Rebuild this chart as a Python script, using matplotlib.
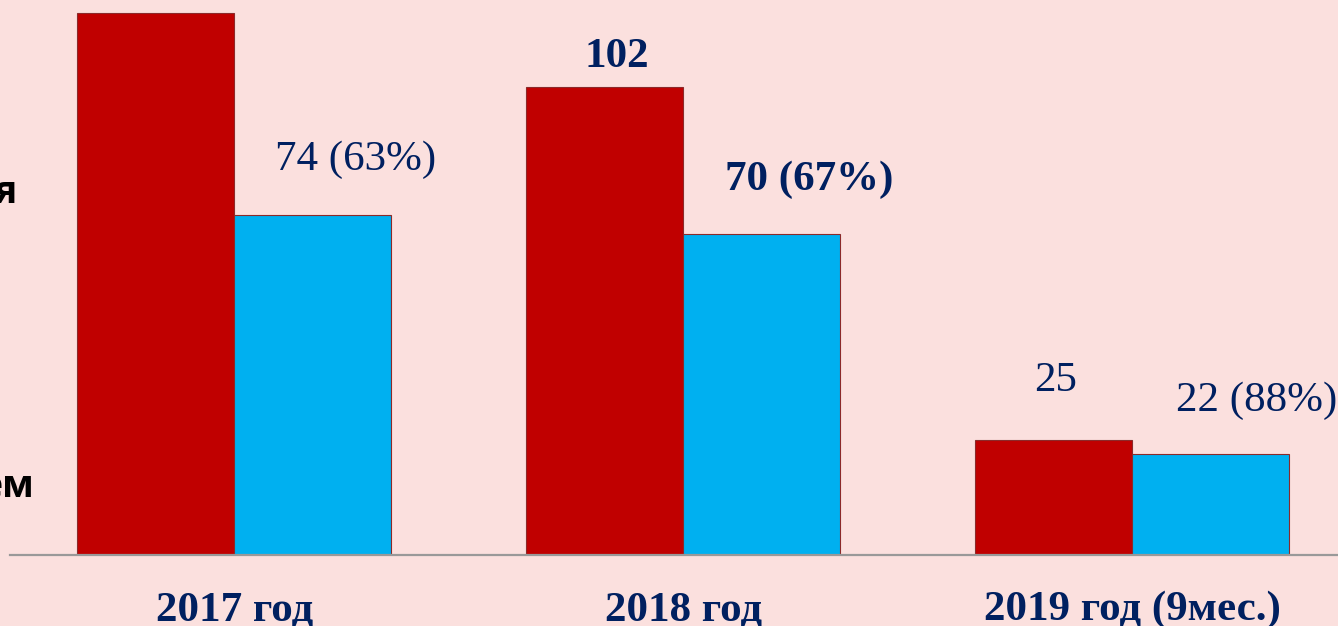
import numpy as np
import matplotlib.pyplot as plt

# данные
categories = ['2017 год', '2018 год', '2019 год (9мес.)']
total = [118, 102, 25]
solved = [74, 70, 22]
total_labels = [None, '102', '25']
solved_labels = ['74 (63%)', '70 (67%)', '22 (88%)']
total_bold = [False, True, False]
solved_bold = [False, True, False]

bg = '#FBE0DE'
red = '#C00000'
cyan = '#00B0F0'
navy = '#002060'

W, H = 1338, 626
fig = plt.figure(figsize=(W / 100, H / 100), dpi=100, facecolor=bg)
ax = fig.add_axes([10 / W, 71 / H, 1 - 10 / W, 1 - 71 / H])
ax.set_facecolor(bg)

x = np.arange(len(categories))
w = 0.35
b1 = ax.bar(x - w / 2, total, w, color=red, edgecolor='#8B2A2A', linewidth=0.8)
b2 = ax.bar(x + w / 2, solved, w, color=cyan, edgecolor='#8B2A2A', linewidth=0.8)

ax.set_xlim(-0.5, 2.459)
ax.set_ylim(0, 120.9)

for s in ['top', 'right', 'left']:
    ax.spines[s].set_visible(False)
ax.spines['bottom'].set_color('#999999')
ax.spines['bottom'].set_linewidth(1.6)
ax.set_yticks([])
ax.set_xticks([])

# подписи значений (сдвиги в пикселях)
tot_off = [(0, 0), (12, 20), (2, 49)]
sol_off = [(43, 45), (47, 44), (46, 43)]
px = 72 / 100
for i in range(len(categories)):
    if total_labels[i]:
        ax.annotate(total_labels[i], (x[i] - w / 2, total[i]),
                    xytext=(tot_off[i][0] * px, tot_off[i][1] * px), textcoords='offset points',
                    ha='center', va='baseline', fontsize=31, color=navy,
                    family='Liberation Serif', fontweight='bold' if total_bold[i] else 'normal')
    ax.annotate(solved_labels[i], (x[i] + w / 2, solved[i]),
                xytext=(sol_off[i][0] * px, sol_off[i][1] * px), textcoords='offset points',
                ha='center', va='baseline', fontsize=31, color=navy,
                family='Liberation Serif', fontweight='bold' if solved_bold[i] else 'normal')

# подписи категорий
for i, c in enumerate(categories):
    ax.annotate(c, (x[i], 0), xytext=(0, -65 * px), textcoords='offset points',
                ha='center', va='baseline', fontsize=31, color=navy,
                family='Liberation Serif', fontweight='bold')

# обрезанный текст слева
fig.text(17 / W, 1 - 203 / H, 'я', ha='right', va='baseline', fontsize=27,
         family='Open Sans', fontweight='bold', color='black')
fig.text(34 / W, 1 - 497 / H, 'ем', ha='right', va='baseline', fontsize=27,
         family='Open Sans', fontweight='bold', color='black')

fig.savefig('out.png', dpi=100, facecolor=bg)
